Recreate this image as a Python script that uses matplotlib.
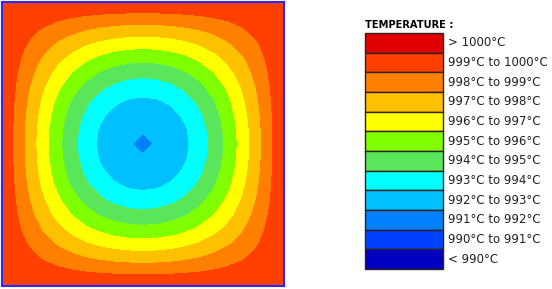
"""
Plate temperature map with a stepped legend on the right.
"""
import matplotlib
matplotlib.use("Agg")
import matplotlib.pyplot as plt
from matplotlib.patches import Rectangle
import numpy as np

# temperature bands (degC) and their colours, lowest first
LEVELS = [980, 990, 991, 992, 993, 994, 995, 996, 997, 998, 999, 1000, 1010]
BAND_COLORS = ["#0000c0", "#0040ff", "#0080ff", "#00c0ff", "#00ffff", "#5ae65a",
               "#80ff00", "#ffff00", "#ffc000", "#ff8000", "#ff4000", "#e00000"]
LABELS = ["< 990°C", "990°C to 991°C", "991°C to 992°C", "992°C to 993°C",
          "993°C to 994°C", "994°C to 995°C", "995°C to 996°C", "996°C to 997°C",
          "997°C to 998°C", "998°C to 999°C", "999°C to 1000°C", "> 1000°C"]

# edge at 1000, centre just under 992
T_EDGE = 1000.0
T_CENTER = 991.93
N_NODES = 21

W, H = 552, 289
fig = plt.figure(figsize=(W / 100, H / 100), dpi=100)

# plate: cooling mode of a square slab
s = np.linspace(0, 1, N_NODES)
X, Y = np.meshgrid(s, s)
T = T_EDGE - (T_EDGE - T_CENTER) * np.sin(np.pi * X) * np.sin(np.pi * Y)

ax = fig.add_axes([1.5 / W, 3 / H, 282.5 / W, 284.5 / H])
ax.contourf(X, Y, T, levels=LEVELS, colors=BAND_COLORS)
ax.set_xlim(0, 1)
ax.set_ylim(0, 1)
ax.set_xticks([])
ax.set_yticks([])
for sp in ax.spines.values():
    sp.set_color("#2a2aff")
    sp.set_linewidth(1.5)

# legend drawn in pixel coordinates
lg = fig.add_axes([0, 0, 1, 1])
lg.set_xlim(0, W)
lg.set_ylim(H, 0)
lg.axis("off")
lg.patch.set_alpha(0)

lg.text(365, 25, "TEMPERATURE :", fontsize=7.1, fontweight="bold",
        ha="left", va="center", color="black")
top, box_h = 33, 19.67
for i, (col, lab) in enumerate(zip(BAND_COLORS[::-1], LABELS[::-1])):
    y0 = top + i * box_h
    lg.add_patch(Rectangle((365, y0), 78, box_h, facecolor=col,
                           edgecolor="#302020", linewidth=1.0))
    lg.text(448, y0 + box_h / 2, lab, fontsize=8.5, ha="left", va="center",
            color="#202020")

fig.savefig("out.png", dpi=100)
